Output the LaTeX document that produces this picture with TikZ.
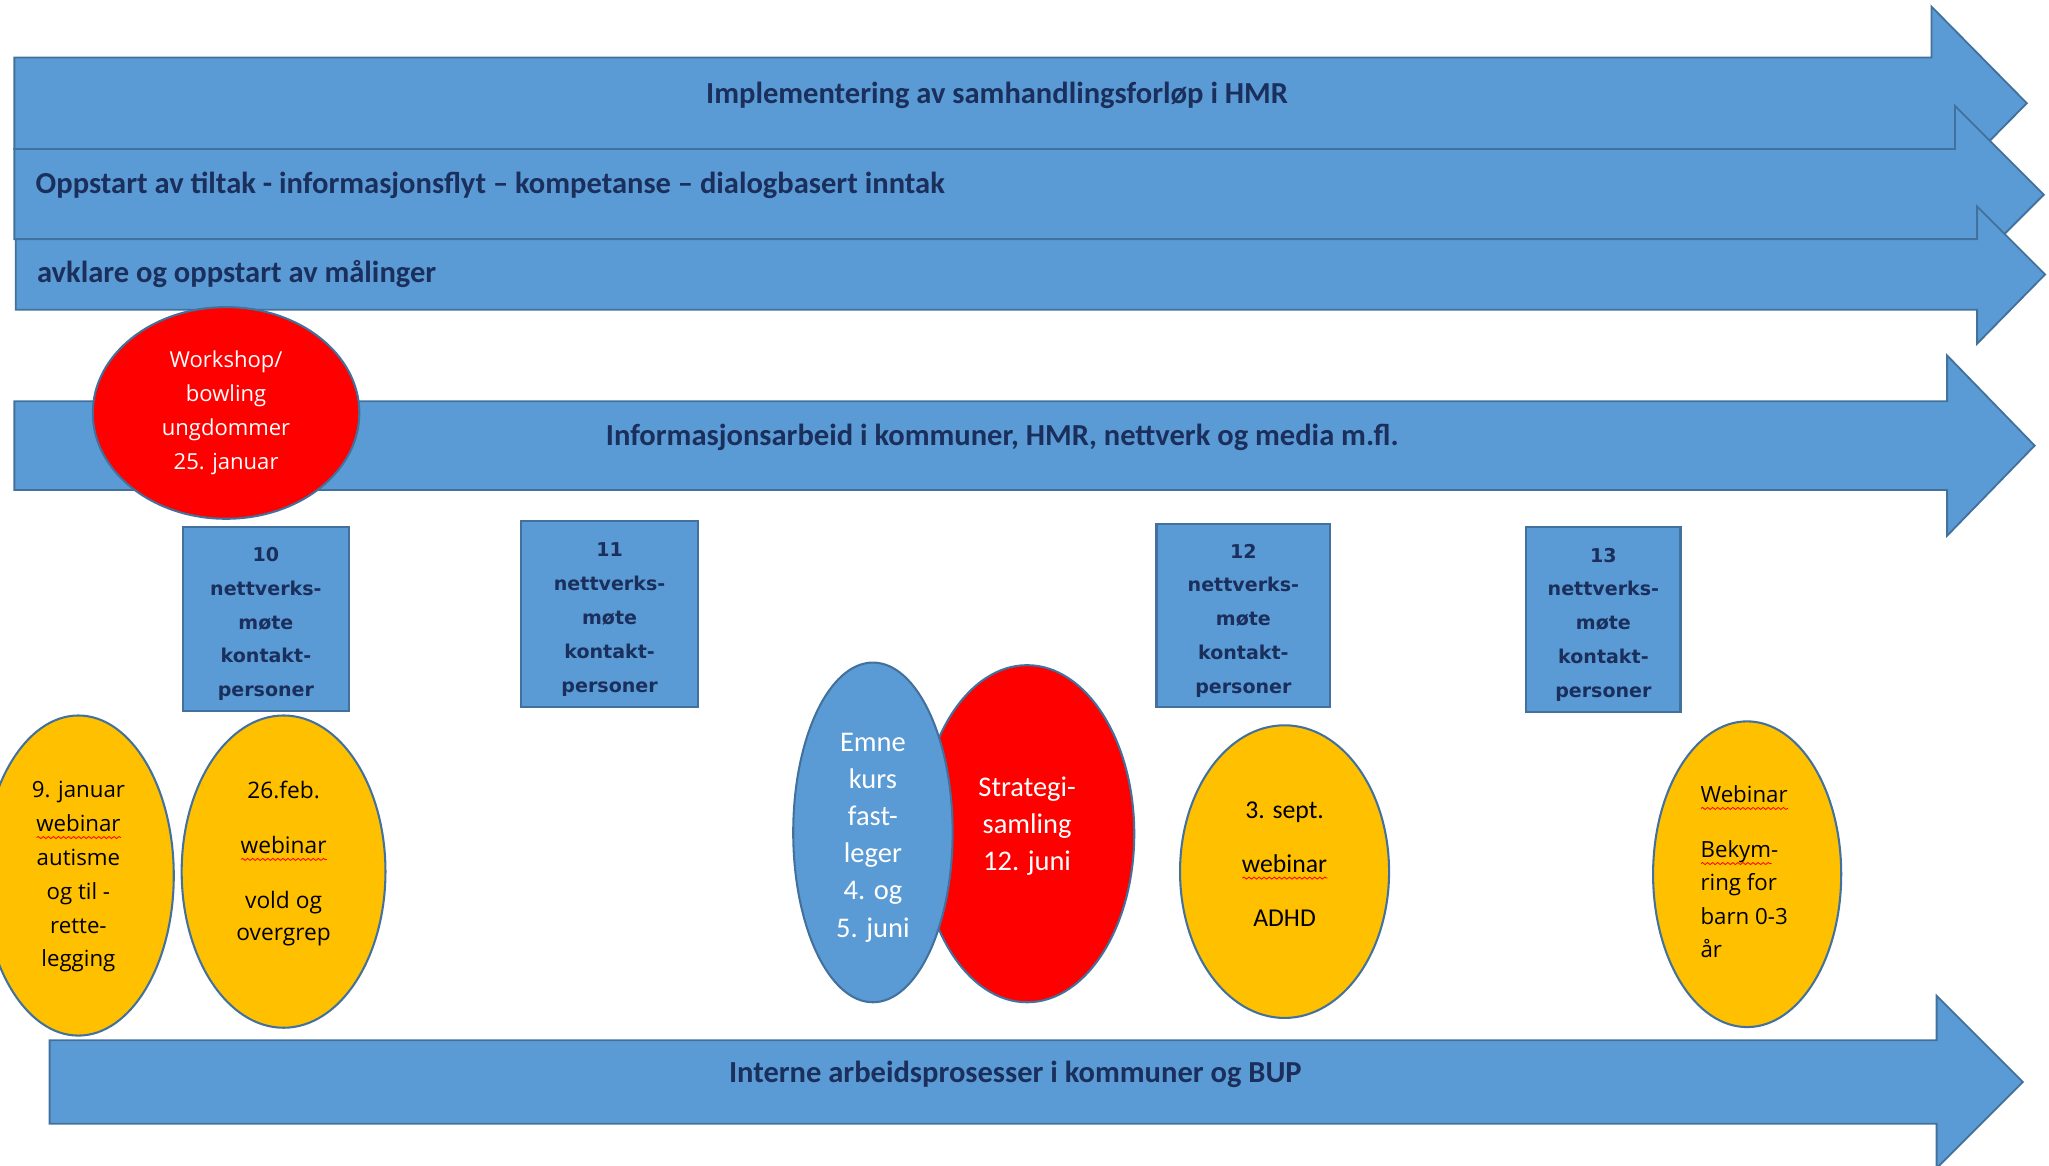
\documentclass[tikz,border=0pt]{standalone}
\usepackage{fontspec}
\setmainfont{Carlito}
\newfontfamily\verdfont{DejaVu Sans}
\newfontfamily\segfont{Open Sans}
\usetikzlibrary{shapes.geometric,decorations.pathmorphing}
\definecolor{barblue}{HTML}{5B9BD5}
\definecolor{edgeblue}{HTML}{41719C}
\definecolor{navytext}{HTML}{1B2F5C}
\definecolor{amber}{HTML}{FFC000}
\definecolor{hotred}{HTML}{FF0000}
\newlength\wavelen
\newcommand\redwave[1]{\settowidth\wavelen{#1}\rlap{\tikz[baseline=0pt]\draw[red, line width=0.35pt, decorate,
  decoration={snake, amplitude=0.45pt, segment length=2.2pt}] (0pt,-2.6pt) -- (\wavelen,-2.6pt);}#1}

\begin{document}
\begin{tikzpicture}[x=0.02cm, y=-0.02cm,
  bar/.style={fill=barblue, draw=edgeblue, line width=0.8pt},
  barlabel/.style={text=navytext, inner sep=0pt, font=\fontsize{13.3}{16}\selectfont\bfseries},
  meetbox/.style={rectangle, fill=barblue, draw=edgeblue, line width=0.9pt, inner sep=0pt},
  meettext/.style={text=navytext, align=center, inner sep=0pt, font=\verdfont\bfseries\fontsize{8.3}{14.74}\selectfont},
  oval/.style={ellipse, draw=edgeblue, line width=0.9pt, inner sep=0pt},
  ovaltext/.style={align=center, inner sep=0pt}]
  \useasboundingbox (0,0) rectangle (1568,892);
  \draw[bar] (11,44) -- (1478,44) -- (1478,5) -- (1551,79) -- (1478,153) -- (1478,114) -- (11,114) -- cycle;
  \draw[bar] (11,114) -- (1496,114) -- (1496,81) -- (1564,149) -- (1496,217) -- (1496,183) -- (11,183) -- cycle;
  \draw[bar] (12,183) -- (1513,183) -- (1513,158) -- (1565,210) -- (1513,263) -- (1513,237) -- (12,237) -- cycle;
  \draw[bar] (11,307) -- (1490,307) -- (1490,272) -- (1557,341) -- (1490,410) -- (1490,375) -- (11,375) -- cycle;
  \draw[bar] (38,796) -- (1482,796) -- (1482,762) -- (1548,828) -- (1482,894) -- (1482,860) -- (38,860) -- cycle;
  \node[barlabel] (impl) at (763,73) {Implementering av samhandlingsforløp i HMR};
  \node[barlabel, anchor=west] (oppstart) at (27,142) {Oppstart av tiltak - informasjonsflyt – kompetanse – dialogbasert inntak};
  \node[barlabel, anchor=west] (maal) at (28,210) {avklare og oppstart av målinger};
  \node[barlabel] (info) at (767,335) {Informasjonsarbeid i kommuner, HMR, nettverk og media m.fl.};
  \node[barlabel] (intern) at (777,822) {Interne arbeidsprosesser i kommuner og BUP};

  \node[oval, fill=hotred, minimum width=4.08cm, minimum height=3.24cm] (work) at (173,316) {};
  \node[ovaltext, text=white, font=\segfont\fontsize{9.6}{14.74}\selectfont] (work-t) at (173,316) {Workshop/\\bowling\\ungdommer\\25. januar};
  \node[oval, fill=amber, minimum width=2.92cm, minimum height=4.9cm] (jan) at (60,670) {};
  \node[ovaltext, font=\segfont\fontsize{9.7}{14.74}\selectfont] (jan-t) at (60,671) {9. januar\\\redwave{webinar}\\autisme\\og til -\\rette-\\legging};
  \node[oval, fill=amber, minimum width=3.12cm, minimum height=4.78cm] (feb) at (217,667) {};
  \node[ovaltext, font=\segfont\fontsize{9.9}{14.2}\selectfont] (feb-t) at (217,661) {26.feb.\\[9.6pt]\redwave{webinar}\\[9.6pt]vold og\\overgrep};
  \node[oval, fill=hotred, minimum width=3.28cm, minimum height=5.16cm] (strat) at (786,638) {};
  \node[oval, fill=barblue, minimum width=2.44cm, minimum height=5.2cm] (emne) at (668,637) {};
  \node[ovaltext, text=white, font=\fontsize{12.4}{16.16}\selectfont] (emne-t) at (668,641) {Emne\\kurs\\fast-\\leger\\4. og\\5. juni};
  \node[ovaltext, text=white, font=\fontsize{12.4}{16.16}\selectfont] (strat-t) at (786,632) {Strategi-\\samling\\12. juni};
  \node[oval, fill=amber, minimum width=3.2cm, minimum height=4.48cm] (sept) at (983,667) {};
  \node[ovaltext, font=\fontsize{11.2}{23.5}\selectfont] (sept-t) at (983,661) {3. sept.\\\redwave{webinar}\\ADHD};
  \node[oval, fill=amber, minimum width=2.88cm, minimum height=4.68cm] (web) at (1337,669) {};
  \node[ovaltext, align=left, anchor=west, font=\segfont\fontsize{9.7}{14.5}\selectfont] (web-t) at (1301,667) {\redwave{Webinar}\\[9.5pt]\redwave{Bekym}-\\ring for\\barn 0-3\\år};

  \node[meetbox, minimum width=2.54cm, minimum height=2.82cm] (m10) at (203.5,473.5) {};
  \node[meettext] (m10-t) at (203.5,477.5) {10\\nettverks-\\møte\\kontakt-\\personer};
  \node[meetbox, minimum width=2.7cm, minimum height=2.84cm] (m11) at (466.5,470) {};
  \node[meettext] (m11-t) at (466.5,474) {11\\nettverks-\\møte\\kontakt-\\personer};
  \node[meetbox, minimum width=2.66cm, minimum height=2.8cm] (m12) at (951.5,471) {};
  \node[meettext] (m12-t) at (951.5,475) {12\\nettverks-\\møte\\kontakt-\\personer};
  \node[meetbox, minimum width=2.36cm, minimum height=2.84cm] (m13) at (1227,474) {};
  \node[meettext] (m13-t) at (1227,478) {13\\nettverks-\\møte\\kontakt-\\personer};
\end{tikzpicture}
\end{document}
